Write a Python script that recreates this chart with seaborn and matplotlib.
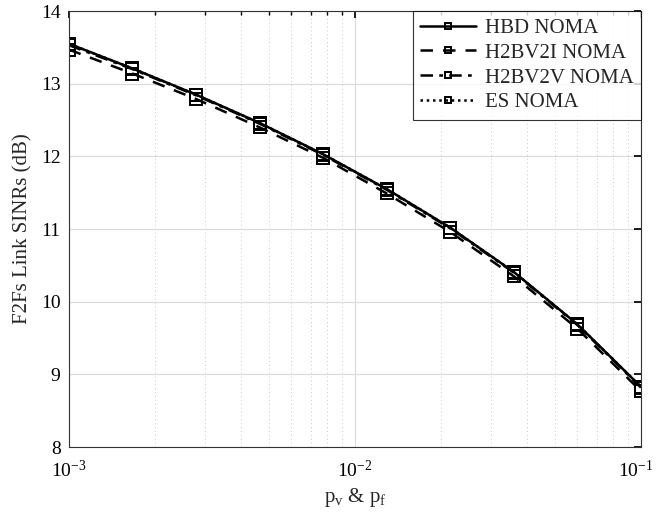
import numpy as np
import pandas as pd
import matplotlib
matplotlib.use("Agg")
import matplotlib.pyplot as plt
import matplotlib.transforms as mtransforms
import seaborn as sns
from matplotlib.ticker import LogLocator, NullFormatter

p_vals = [1e-3, 1.668e-3, 2.783e-3, 4.642e-3, 7.743e-3, 1.292e-2, 2.154e-2, 3.594e-2, 5.995e-2, 1e-1]
hbd = [13.55, 13.21, 12.85, 12.46, 12.03, 11.55, 11.02, 10.41, 9.69, 8.83]
h2bv2i = [13.47, 13.14, 12.79, 12.40, 11.98, 11.49, 10.96, 10.35, 9.63, 8.77]
h2bv2v = [13.53, 13.20, 12.84, 12.45, 12.02, 11.54, 11.01, 10.40, 9.68, 8.82]
es = [13.55, 13.21, 12.85, 12.46, 12.03, 11.55, 11.02, 10.41, 9.69, 8.83]
names = ["HBD NOMA", "H2BV2I NOMA", "H2BV2V NOMA", "ES NOMA"]
styles = ["-", (0, (5, 4)), (0, (5, 2.5, 1.5, 2.5)), (0, (1, 1.5))]

sns.set_theme(style="white")
plt.rcParams['font.family'] = ['Liberation Serif', 'DejaVu Serif']
plt.rcParams['mathtext.fontset'] = 'custom'
plt.rcParams['mathtext.rm'] = 'Liberation Serif'
plt.rcParams['mathtext.it'] = 'Liberation Serif:italic'

fig = plt.figure(figsize=(6.56, 5.26), dpi=100)
ax = fig.add_axes([0.105, 0.150, 0.872, 0.829])

for name, vals, ls in zip(names, [hbd, h2bv2i, h2bv2v, es], styles):
    df = pd.DataFrame({"p": p_vals, "sinr": vals})
    sns.lineplot(data=df, x="p", y="sinr", ax=ax, color="black", linewidth=1.8,
                 linestyle=ls, marker="s", markersize=8, markerfacecolor="none",
                 markeredgecolor="black", markeredgewidth=1.4, label=name)

ax.set_xscale("log")
ax.set_xlim(1e-3, 1e-1)
ax.set_ylim(8, 14)
ax.set_yticks([8, 9, 10, 11, 12, 13, 14])
ax.set_xticks([1e-3, 1e-2, 1e-1])
ax.set_xticklabels([r"10$^{-3}$", r"10$^{-2}$", r"10$^{-1}$"])
ax.xaxis.set_minor_locator(LogLocator(base=10, subs=np.arange(2, 10), numticks=20))
ax.xaxis.set_minor_formatter(NullFormatter())
ax.grid(True, which="major", color="#dcdcdc", linewidth=0.9, linestyle="-")
ax.grid(True, which="minor", axis="x", color="#c8c8c8", linewidth=0.7, linestyle=(0, (1, 3)))
ax.tick_params(which="both", direction="in", top=True, right=True, labelsize=14, colors="black")
ax.tick_params(which="major", length=5)
ax.tick_params(which="minor", length=3)
ax.tick_params(axis="x", which="major", pad=9)
ax.tick_params(axis="y", which="major", pad=6)
for s in ax.spines.values():
    s.set_color("#333333")
    s.set_linewidth(0.8)

# keep the last x tick label inside the figure
last = ax.get_xticklabels()[-1]
last.set_transform(last.get_transform() + mtransforms.ScaledTranslation(-5 / 100, 0, fig.dpi_scale_trans))

ax.set_xlabel(r"p$_\mathregular{v}$ & p$_\mathregular{f}$", fontsize=15, labelpad=4)
ax.set_ylabel("F2Fs Link SINRs (dB)", fontsize=15, labelpad=6)

leg = ax.legend(loc="upper right", fontsize=15, frameon=True, fancybox=False,
                edgecolor="black", borderaxespad=0, handlelength=2.7,
                labelspacing=0.25, borderpad=0.35, handletextpad=0.4)
leg.get_frame().set_linewidth(0.8)
for h in leg.legend_handles:
    h.set_markersize(5)

fig.savefig("out.png", dpi=100)
